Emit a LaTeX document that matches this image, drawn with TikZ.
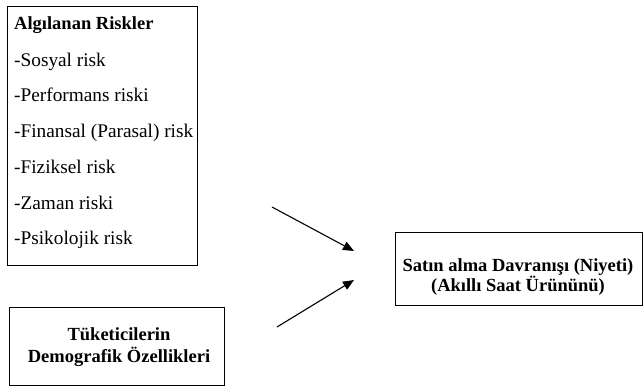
\documentclass[tikz,border=0pt]{standalone}
\usepackage{fontspec}
\setmainfont{Liberation Serif}
\usetikzlibrary{positioning,arrows.meta}

\begin{document}
\begin{tikzpicture}[
    x=1pt, y=-1pt,
    frame/.style={draw, line width=1pt, inner sep=0pt, anchor=north west},
    item/.style={anchor=base west, inner sep=0pt, font=\fontsize{19.3}{22}\selectfont},
    head/.style={align=center, inner sep=0pt, font=\fontsize{18.5}{21.5}\selectfont\bfseries},
    arr/.style={-{Triangle[length=11pt, width=9pt]}, line width=1.1pt},
]
\useasboundingbox (0,0) rectangle (643,386);

% Risk box
\node[frame, minimum width=190pt, minimum height=259pt] (risks) at (7,6) {};
\node[item, font=\fontsize{18.5}{22}\selectfont\bfseries] (rTitle) at (14,29) {Algılanan Riskler};
\node[item] (rSocial) at (14,66) {-Sosyal risk};
\node[item] (rPerf) at (14,101) {-Performans riski};
\node[item] (rFin) at (14,137) {-Finansal (Parasal) risk};
\node[item] (rPhys) at (14,173) {-Fiziksel risk};
\node[item] (rTime) at (14,209) {-Zaman riski};
\node[item] (rPsy) at (14,244) {-Psikolojik risk};

% Demographics box
\node[frame, minimum width=215pt, minimum height=78pt] (demo) at (9,307) {};
\node[head] (demoTxt) at (119,347) {Tüketicilerin\\Demografik Özellikleri};

% Purchase box
\node[frame, minimum width=247pt, minimum height=73pt] (buy) at (395,232) {};
\node[head, font=\fontsize{18.5}{18.5}\selectfont\bfseries] (buyTxt) at (518,277)
    {Satın alma Davranışı (Niyeti)\\(Akıllı Saat Ürününü)};

% Arrows
\coordinate (riskOut) at (272,207);
\coordinate (riskIn) at (354,251);
\coordinate (demoOut) at (277,327);
\coordinate (demoIn) at (354,280);
\draw[arr] (riskOut) -- (riskIn);
\draw[arr] (demoOut) -- (demoIn);
\end{tikzpicture}
\end{document}
